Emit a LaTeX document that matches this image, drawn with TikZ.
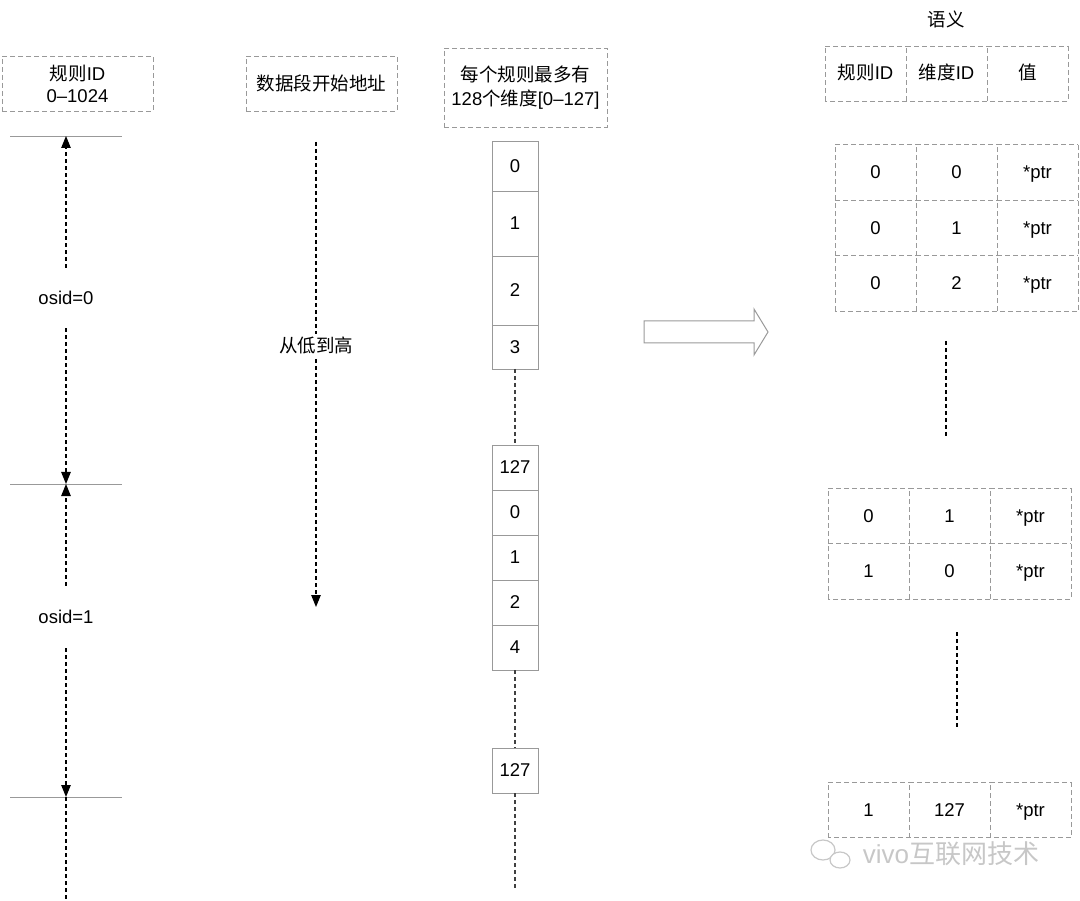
\documentclass[tikz,border=0pt]{standalone}
\usepackage{fontspec}
\setmainfont{Liberation Sans}
\newfontfamily\cjk{Noto Sans CJK SC}
\usepackage{xcolor}
\usepackage{tikz}
\usetikzlibrary{arrows.meta,positioning}
\definecolor{linegray}{rgb}{0.60,0.60,0.60}
\definecolor{markgray}{rgb}{0.78,0.78,0.78}
\newcommand{\zh}[1]{{\cjk #1}}

\begin{document}
\begin{tikzpicture}[x=1pt,y=-1pt,font=\fontsize{18.5}{22}\selectfont,
   tline/.style={draw=linegray,line width=0.9pt,dash pattern=on 5pt off 3pt},
   hdr/.style={tline,align=center,inner sep=0,outer sep=0},
   cell/.style={draw=linegray,line width=0.9pt,inner sep=0,outer sep=0,minimum width=46pt,minimum height=45pt},
   tcell/.style={inner sep=0,outer sep=0,minimum width=81pt,minimum height=55.5pt,text height=13pt,text depth=0pt,
     append after command={(\tikzlastnode.south west) edge[tline] (\tikzlastnode.north west)
                           (\tikzlastnode.north west) edge[tline] (\tikzlastnode.north east)}},
   tick/.style={draw=linegray,line width=0.9pt},
   dots/.style={dash pattern=on 4pt off 3pt,line width=1.1pt},
   dim/.style={dots,-{Triangle[length=12pt,width=9.5pt]}}]
  \useasboundingbox (0,0) rectangle (1080,901);

  % rule id column
  \node[hdr,minimum width=151pt,minimum height=55pt] (ruleid) at (77.5,83.5) {\zh{规则}ID\\0–1024};
  \coordinate (b0) at (66,136);
  \coordinate (b1) at (66,484);
  \coordinate (b2) at (66,797);
  \coordinate (lend) at (66,901);
  \draw[tick] ([xshift=-56pt]b0) -- ([xshift=56pt]b0);
  \draw[tick] ([xshift=-56pt]b1) -- ([xshift=56pt]b1);
  \draw[tick] ([xshift=-56pt]b2) -- ([xshift=56pt]b2);
  \node[inner sep=0,minimum height=60pt] (os0) at (66,298) {osid=0};
  \node[inner sep=0,minimum height=62pt] (os1) at (66,617) {osid=1};
  \draw[dim] (os0.north) -- (b0);
  \draw[dim] (os0.south) -- (b1);
  \draw[dim] (os1.north) -- (b1);
  \draw[dim] (os1.south) -- (b2);
  \draw[dots] (b2) -- (lend);

  % segment start address
  \node[hdr,minimum width=151pt,minimum height=55pt] (segaddr) at (321.5,83.5) {\zh{数据段开始地址}};
  \coordinate (ds) at (316,142);
  \coordinate (de) at (316,607);
  \draw[dim] (ds) -- (de);
  \node[fill=white,inner sep=2pt] (lowhigh) at (316,345) {\zh{从低到高}};

  % dimensions per rule
  \node[hdr,minimum width=163pt,minimum height=79pt] (dims) at (525.5,87.5)
       {\zh{每个规则最多有}\\[2pt]128\zh{个维度}[0–127]};
  \node[cell,minimum height=50pt] (c0) at (515,166) {0};
  \node[cell,minimum height=65pt,below=0 of c0] (c1) {1};
  \node[cell,minimum height=69pt,below=0 of c1] (c2) {2};
  \node[cell,minimum height=44pt,below=0 of c2] (c3) {3};
  \node[cell] (d127) at (515,467.5) {127};
  \node[cell,below=0 of d127] (d0) {0};
  \node[cell,below=0 of d0] (d1) {1};
  \node[cell,below=0 of d1] (d2) {2};
  \node[cell,below=0 of d2] (d4) {4};
  \node[cell] (e127) at (515,770.5) {127};
  \coordinate (cend) at (515,890);
  \draw[dots,draw=black!75] (c3) -- (d127);
  \draw[dots,draw=black!75] (d4) -- (e127);
  \draw[dots,draw=black!75] (e127) -- (cend);

  % big arrow
  \draw[linegray,line width=1pt,line join=miter] (644,321) -- (754,321) -- (754,309) -- (768,332)
       -- (754,355) -- (754,343) -- (644,343) -- cycle;

  % semantics tables
  \node (sem) at (946,19) {\zh{语义}};
  \node[tcell,minimum height=55pt] (hrid) at (865.5,73.5) {\zh{规则}ID};
  \node[tcell,minimum height=55pt,right=0 of hrid] (hdid) {\zh{维度}ID};
  \node[tcell,minimum height=55pt,right=0 of hdid] (hval) {\zh{值}};
  \draw[tline] (hval.north east) |- (hrid.south west);

  \node[tcell] (ta1) at (875.5,172.5) {0};
  \node[tcell,right=0 of ta1] (ta2) {0};
  \node[tcell,right=0 of ta2] (ta3) {*ptr};
  \node[tcell,below=0 of ta1] (tb1) {0};
  \node[tcell,right=0 of tb1] (tb2) {1};
  \node[tcell,right=0 of tb2] (tb3) {*ptr};
  \node[tcell,below=0 of tb1] (tc1) {0};
  \node[tcell,right=0 of tc1] (tc2) {2};
  \node[tcell,right=0 of tc2] (tc3) {*ptr};
  \draw[tline] (ta3.north east) |- (tc1.south west);

  \coordinate (v1a) at (946,341);
  \coordinate (v1b) at (946,437);
  \draw[dots] (v1a) -- (v1b);

  \node[tcell] (ua1) at (868.5,515.75) {0};
  \node[tcell,right=0 of ua1] (ua2) {1};
  \node[tcell,right=0 of ua2] (ua3) {*ptr};
  \node[tcell,below=0 of ua1] (ub1) {1};
  \node[tcell,right=0 of ub1] (ub2) {0};
  \node[tcell,right=0 of ub2] (ub3) {*ptr};
  \draw[tline] (ua3.north east) |- (ub1.south west);

  \coordinate (v2a) at (957,632);
  \coordinate (v2b) at (957,727);
  \draw[dots] (v2a) -- (v2b);

  \node[tcell] (wa1) at (868.5,810) {1};
  \node[tcell,right=0 of wa1] (wa2) {127};
  \node[tcell,right=0 of wa2] (wa3) {*ptr};
  \draw[tline] (wa3.north east) |- (wa1.south west);

  % watermark
  \draw[markgray,line width=1.2pt] (823,850) ellipse (12pt and 10pt);
  \draw[markgray,line width=1.2pt,fill=white] (840,860) ellipse (10pt and 8pt);
  \node[text=markgray,font=\fontsize{26}{30}\selectfont] (mark) at (951,854) {vivo\zh{互联网技术}};
\end{tikzpicture}
\end{document}
